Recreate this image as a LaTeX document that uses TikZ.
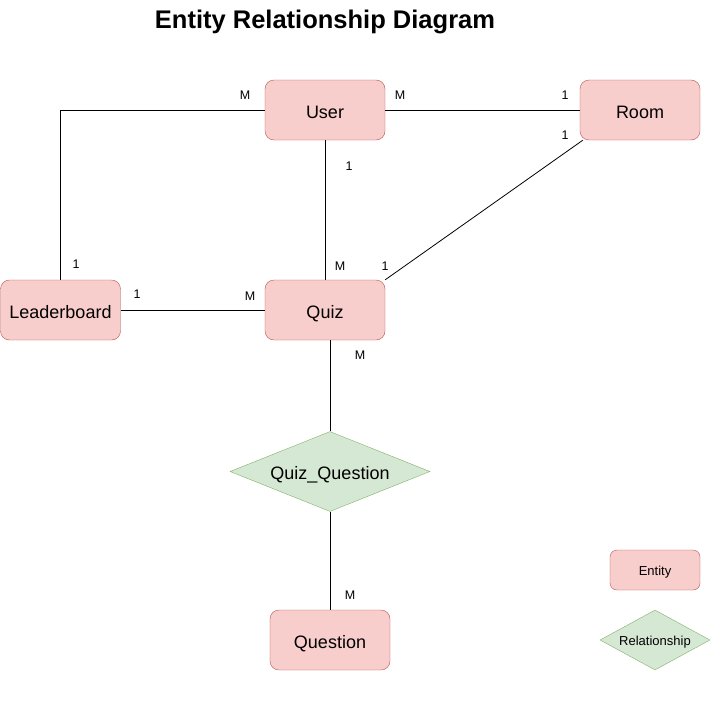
\documentclass[tikz,border=0pt]{standalone}
\usepackage{fontspec}
\setmainfont{Liberation Sans}
\usetikzlibrary{shapes.geometric}
\definecolor{entfill}{HTML}{F8CECC}
\definecolor{entdraw}{HTML}{B85450}
\definecolor{relfill}{HTML}{D5E8D4}
\definecolor{reldraw}{HTML}{82B366}
\begin{document}
\begin{tikzpicture}[x=1pt,y=-1pt,
  bigtext/.style={font=\fontsize{18}{21}\selectfont,text height=16pt,text depth=0pt},
  smalltext/.style={font=\fontsize{13}{15}\selectfont,text height=11.5pt,text depth=0pt},
  entity/.style={draw=entdraw,fill=entfill,rounded corners=9pt,minimum width=120pt,minimum height=60pt,inner sep=0pt,bigtext},
  legent/.style={draw=entdraw,fill=entfill,rounded corners=7pt,minimum width=90pt,minimum height=40pt,inner sep=0pt,smalltext},
  rel/.style={diamond,draw=reldraw,fill=relfill,aspect=2.5,minimum width=200pt,minimum height=80pt,inner sep=0pt,bigtext},
  legrel/.style={diamond,draw=reldraw,fill=relfill,aspect=1.83,minimum width=110pt,minimum height=60pt,inner sep=0pt,smalltext},
  card/.style={font=\fontsize{12.5}{14}\selectfont,inner sep=0pt},
  conn/.style={draw=black,line width=0.8pt}]
\useasboundingbox (0,0) rectangle (717,725);
\node[font=\fontsize{25.5}{30}\selectfont\bfseries] (title) at (325,22) {Entity Relationship Diagram};
\node[entity] (user) at (325,110) {User};
\node[entity] (room) at (640,110) {Room};
\node[entity] (lead) at (60.5,310) {Leaderboard};
\node[entity] (quiz) at (325,310) {Quiz};
\node[rel] (qq) at (330,471.5) {Quiz\_Question};
\node[entity] (ques) at (330,640) {Question};
\node[legent] (lent) at (655,570) {Entity};
\node[legrel] (lrel) at (655,640) {Relationship};
\coordinate (c1) at (60.5,110);
\draw[conn] (user.west) -- (c1) -- (lead.north);
\draw[conn] (user.east) -- (room.west);
\draw[conn] (user.south) -- (quiz.north);
\draw[conn] (room.south west) ++(3,0) coordinate (rsw) -- (quiz.north east);
\draw[conn] (lead.east) -- (quiz.west);
\draw[conn] (quiz.south -| qq.north) -- (qq.north);
\draw[conn] (qq.south) -- (ques.north);
\node[card] (m1) at (245,95) {M};
\node[card] (m2) at (400,95) {M};
\node[card] (o1) at (565,95) {1};
\node[card] (o2) at (565,135) {1};
\node[card] (o3) at (349,166) {1};
\node[card] (o4) at (76,264) {1};
\node[card] (m3) at (340,266) {M};
\node[card] (o5) at (385,266) {1};
\node[card] (o6) at (137,294) {1};
\node[card] (m4) at (250,296) {M};
\node[card] (m5) at (360,355) {M};
\node[card] (m6) at (350,595) {M};
\end{tikzpicture}
\end{document}
